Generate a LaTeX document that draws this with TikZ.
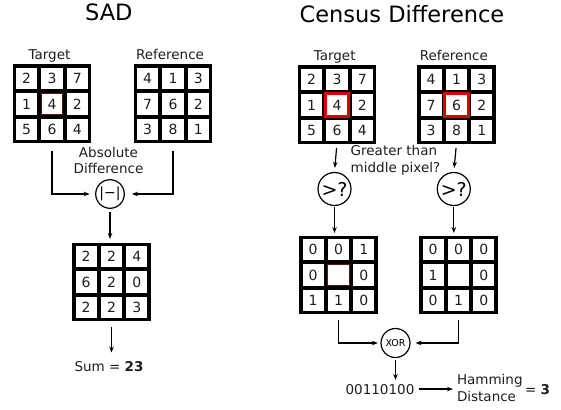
\documentclass[tikz,border=0pt]{standalone}
\usepackage{fontspec}
\setmainfont{DejaVu Sans}
\usetikzlibrary{matrix,arrows.meta}
\definecolor{cellred}{RGB}{222,0,0}
\definecolor{darkcell}{RGB}{95,22,22}
\definecolor{ink}{RGB}{30,30,30}
\begin{document}
\begin{tikzpicture}[x=1pt,y=-1pt,
  txt/.style={font=\fontsize{13.5}{16.5}\selectfont, text=ink, inner sep=0pt, outer sep=0pt},
  titletxt/.style={font=\fontsize{22.5}{26}\selectfont, inner sep=0pt},
  cell/.style={draw, line width=2pt, minimum size=23.33pt, inner sep=0pt, outer sep=0pt,
    anchor=center, font=\fontsize{14}{16}\selectfont, text=ink},
  gridm/.style={matrix of nodes, nodes={cell}, nodes in empty cells, inner sep=0pt,
    outer sep=0pt, column sep=0pt, row sep=0pt, anchor=north west},
  frame/.style={draw, line width=3pt},
  thinmark/.style={draw=darkcell, line width=0.7pt, minimum size=21.4pt, inner sep=0pt},
  redmark/.style={draw=cellred, line width=2.8pt, minimum size=23.33pt, inner sep=0pt},
  op/.style={circle, draw, line width=1.2pt, inner sep=0pt},
  arr/.style={line width=1.2pt, -{Stealth[length=6pt,width=4.5pt]}},
]
\useasboundingbox (0,0) rectangle (561,409);

% ---------------- SAD ----------------
\node[titletxt, anchor=base] (sadtitle) at (108.8,20.7) {SAD};
\node[txt, anchor=base] (sadTl) at (49.5,60) {Target};
\node[txt, anchor=base] (sadRl) at (170,60) {Reference};

\matrix (sadT) [gridm] at (14,66) {
2 & 3 & 7 \\
1 & 4 & 2 \\
5 & 6 & 4 \\
};
\draw[frame] (sadT.north west) rectangle (sadT.south east);
\node[thinmark] (sadTc) at (sadT-2-2) {};

\matrix (sadR) [gridm] at (135,66) {
4 & 1 & 3 \\
7 & 6 & 2 \\
3 & 8 & 1 \\
};
\draw[frame] (sadR.north west) rectangle (sadR.south east);

\node[txt, anchor=north, align=center] (absdl) at (108.5,147) {Absolute\\Difference};
\node[op, minimum size=28.6pt, font=\fontsize{14}{16}\selectfont] (absd) at (110,194) {|−|};

\matrix (sadD) [gridm] at (73.5,244) {
2 & 2 & 4 \\
6 & 2 & 0 \\
2 & 2 & 3 \\
};
\draw[frame] (sadD.north west) rectangle (sadD.south east);

\node[txt, anchor=base] (sum) at (109,371.5) {Sum = \textbf{23}};

\draw[arr, shorten <=9pt, shorten >=5.5pt] (sadT.south) |- (absd);
\draw[arr, shorten <=9pt, shorten >=7pt] (sadR.south) |- (absd);
\draw[arr, shorten <=3.5pt, shorten >=5pt] (absd.south) -- (absd.south |- sadD.north);
\draw[arr, shorten <=7pt, shorten >=9pt] (sadD.south) -- (sadD.south |- sum.north);

% ---------------- Census ----------------
\node[titletxt, anchor=base] (centitle) at (402,22.7) {Census Difference};
\node[txt, anchor=base] (cenTl) at (334.7,60.5) {Target};
\node[txt, anchor=base] (cenRl) at (453.8,60.5) {Reference};

\matrix (cenT) [gridm] at (299,67) {
2 & 3 & 7 \\
1 & 4 & 2 \\
5 & 6 & 4 \\
};
\draw[frame] (cenT.north west) rectangle (cenT.south east);
\node[redmark] (cenTc) at (cenT-2-2) {};

\matrix (cenR) [gridm] at (418.5,67) {
4 & 1 & 3 \\
7 & 6 & 2 \\
3 & 8 & 1 \\
};
\draw[frame] (cenR.north west) rectangle (cenR.south east);
\node[redmark] (cenRc) at (cenR-2-2) {};

\node[txt, anchor=north west, align=left] (gtl) at (350.7,145.7) {Greater than\\middle pixel?};

\node[op, minimum size=33pt, font=\fontsize{19}{22}\selectfont] (gtT) at (334.5,189) {>?};
\node[op, minimum size=33pt, font=\fontsize{19}{22}\selectfont] (gtR) at (453.8,189) {>?};

\matrix (cenTB) [gridm] at (300.5,237) {
0 & 0 & 1 \\
0 &   & 0 \\
1 & 1 & 0 \\
};
\draw[frame] (cenTB.north west) rectangle (cenTB.south east);
\node[thinmark] (cenTBc) at (cenTB-2-2) {};

\matrix (cenRB) [gridm] at (420.5,237) {
0 & 0 & 0 \\
1 &   & 0 \\
0 & 1 & 0 \\
};
\draw[frame] (cenRB.north west) rectangle (cenRB.south east);

\node[op, minimum size=29pt, font=\fontsize{9.5}{11}\selectfont] (xor) at (395.5,343) {XOR};

\node[txt, anchor=base] (code) at (380,394) {00110100};
\node[txt, anchor=north west, align=left] (ham) at (457,374.7) {Hamming\\Distance};
\node[txt, anchor=base west] (res) at (525,394) {= \textbf{3}};

\draw[arr, shorten <=5pt, shorten >=4pt] (cenT.south) -- (gtT.north);
\draw[arr, shorten <=5pt, shorten >=4pt] (cenR.south) -- (gtR.north);
\draw[arr, shorten <=1pt, shorten >=4pt] (gtT.south) -- (gtT.south |- cenTB.north);
\draw[arr, shorten <=1pt, shorten >=4pt] (gtR.south) -- (gtR.south |- cenRB.north);
\draw[arr, shorten <=7pt, shorten >=2.5pt] (cenTB.south) |- (xor);
\draw[arr, shorten <=7pt, shorten >=5pt] (cenRB.south) |- (xor);
\draw[arr, shorten <=2pt, shorten >=4pt] (xor.south) -- (xor.south |- code.north);
\draw[arr, shorten <=4.5pt, shorten >=4pt] (code.east) -- (code.east -| ham.west);
\end{tikzpicture}
\end{document}
